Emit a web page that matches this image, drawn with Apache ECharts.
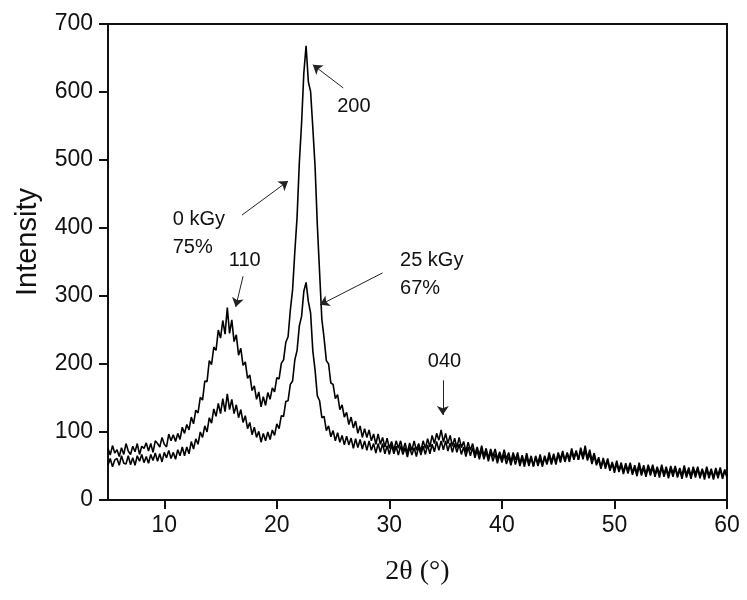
<!DOCTYPE html>
<html>
<head>
<meta charset="utf-8">
<script src="https://cdn.jsdelivr.net/npm/echarts@6/dist/echarts.min.js"></script>
<style>
  html, body { margin: 0; padding: 0; background: #fff; }
  #chart { width: 747px; height: 600px; }
</style>
</head>
<body>
<div id="chart"></div>
<script>
// 2theta sampling of the scans (deg)
const thetaStart = 5;
const thetaStep = 0.2;

// 0 kGy, crystallinity 75% - one value every 0.2 deg from 5 to 60
const intensity0kGy = [
  76, 66, 80, 69, 74, 64, 77, 67, 83, 72,          // 5.0
  67, 79, 71, 83, 67, 79, 76, 84, 72, 83,          // 7.0
  70, 87, 83, 78, 92, 82, 78, 97, 87, 96,          // 9.0
  86, 98, 89, 107, 98, 111, 103, 122, 112, 132,    // 11.0
  128, 151, 147, 175, 174, 205, 199, 225, 220, 250, // 13.0
  238, 264, 244, 283, 245, 265, 233, 243, 213, 223, // 15.0
  198, 203, 179, 184, 161, 168, 148, 159, 137, 152, // 17.0
  139, 158, 148, 165, 159, 180, 178, 201, 206, 232, // 19.0
  240, 279, 309, 365, 416, 496, 554, 628, 668, 615, // 21.0
  601, 547, 490, 404, 335, 266, 238, 205, 200, 172, // 23.0
  170, 149, 155, 133, 140, 122, 129, 111, 122, 106, // 25.0
  116, 98, 109, 92, 105, 92, 103, 87, 97, 82,      // 27.0
  97, 82, 92, 78, 91, 76, 86, 73, 87, 76,          // 29.0
  87, 72, 84, 69, 84, 73, 87, 73, 83, 72,          // 31.0
  87, 76, 90, 78, 95, 83, 98, 88, 103, 85,         // 33.0
  98, 83, 95, 79, 91, 77, 92, 77, 86, 71,          // 35.0
  85, 73, 83, 67, 78, 66, 80, 65, 76, 61,          // 37.0
  75, 64, 75, 60, 71, 60, 74, 60, 70, 56,          // 39.0
  70, 59, 70, 54, 66, 54, 69, 54, 65, 50,          // 41.0
  65, 54, 67, 52, 65, 54, 70, 56, 68, 55,          // 43.0
  70, 60, 72, 58, 70, 60, 76, 62, 73, 59,          // 45.0
  77, 64, 80, 61, 74, 58, 69, 54, 63, 48,          // 47.0
  62, 50, 61, 45, 56, 44, 58, 44, 55, 41,          // 49.0
  54, 43, 55, 40, 51, 40, 55, 40, 51, 38,          // 51.0
  52, 41, 52, 38, 49, 38, 52, 38, 49, 36,          // 53.0
  50, 39, 50, 36, 47, 36, 51, 37, 48, 35,          // 55.0
  49, 38, 49, 35, 46, 35, 49, 36, 46, 33,          // 57.0
  47, 36, 48, 34, 45, 35                           // 59.0
];

// 25 kGy, crystallinity 67%
const intensity25kGy = [
  51, 61, 49, 59, 61, 51, 65, 54, 53, 65,          // 5.0
  52, 62, 51, 65, 57, 67, 55, 64, 54, 67,          // 7.0
  58, 69, 57, 68, 56, 70, 62, 73, 61, 70,          // 9.0
  60, 74, 65, 78, 65, 78, 68, 86, 75, 90,          // 11.0
  82, 100, 92, 109, 100, 121, 113, 134, 123, 142,  // 13.0
  127, 149, 130, 156, 133, 148, 127, 140, 121, 133, // 15.0
  114, 124, 105, 114, 96, 107, 92, 101, 85, 98,    // 17.0
  87, 100, 89, 103, 95, 112, 105, 124, 123, 145,   // 19.0
  146, 170, 175, 206, 220, 256, 270, 307, 320, 292, // 21.0
  275, 219, 191, 153, 146, 121, 123, 102, 109, 93, // 23.0
  102, 87, 99, 85, 95, 81, 94, 81, 91, 76,         // 25.0
  90, 77, 89, 75, 87, 73, 87, 73, 83, 69,          // 27.0
  83, 70, 83, 68, 80, 67, 81, 68, 79, 66,          // 29.0
  80, 67, 77, 63, 78, 66, 77, 64, 79, 66,          // 31.0
  79, 67, 81, 68, 82, 71, 86, 73, 87, 74,          // 33.0
  87, 72, 84, 70, 83, 70, 82, 67, 78, 64,          // 35.0
  78, 65, 77, 62, 73, 60, 74, 60, 71, 57,          // 37.0
  71, 57, 68, 54, 67, 55, 67, 53, 64, 51,          // 39.0
  65, 52, 65, 50, 62, 49, 63, 50, 62, 49,          // 41.0
  63, 50, 61, 49, 63, 52, 65, 52, 65, 52,          // 43.0
  67, 55, 69, 56, 68, 56, 71, 59, 71, 59,          // 45.0
  73, 60, 73, 58, 68, 53, 65, 51, 60, 46,          // 47.0
  59, 46, 58, 43, 54, 40, 54, 41, 51, 38,          // 49.0
  51, 39, 51, 37, 48, 35, 50, 36, 47, 34,          // 51.0
  48, 36, 48, 34, 46, 33, 48, 34, 45, 32,          // 53.0
  46, 34, 47, 33, 44, 31, 46, 33, 44, 31,          // 55.0
  45, 33, 46, 32, 44, 30, 45, 32, 43, 30,          // 57.0
  44, 32, 45, 31, 43, 33                           // 59.0
];

const xTickValues = [10, 20, 30, 40, 50, 60];

// peak / sample annotations: [2theta, intensity, text, align]
const noteLabels = [
  [26.85, 579, '200', 'center'],
  [10.75, 392, '0 kGy\n75%', 'left'],
  [17.15, 352, '110', 'center'],
  [30.95, 331, '25 kGy\n67%', 'left'],
  [34.9, 204, '040', 'center']
];
// arrows: [tail 2theta, tail intensity, head 2theta, head intensity]
const noteArrows = [
  [25.9, 606, 23.2, 640],
  [16.9, 419, 21.0, 469],
  [17.0, 329, 16.35, 284],
  [29.4, 334, 23.85, 287],
  [34.75, 176, 34.75, 125]
];

function toPairs(values) {
  return values.map((v, i) => [+(thetaStart + i * thetaStep).toFixed(1), v]);
}

const chart = echarts.init(document.getElementById('chart'), null, { renderer: 'canvas' });

const textColor = '#111';
const sansFont = '"Liberation Sans", Arial, sans-serif';

chart.setOption({
  animation: false,
  backgroundColor: '#fff',
  grid: {
    left: 108, right: 20, top: 24, bottom: 100,
    show: true, borderColor: '#111', borderWidth: 2
  },
  xAxis: {
    type: 'value',
    min: 5, max: 60,
    name: '2\u03b8 (\u00b0)',
    nameLocation: 'middle',
    nameGap: 58,
    nameTextStyle: { fontFamily: '"Liberation Serif", "DejaVu Serif", serif', fontSize: 28, color: textColor },
    axisLine: { lineStyle: { color: '#111', width: 2 } },
    axisTick: { show: true, length: 9, customValues: xTickValues, lineStyle: { color: '#111', width: 2 } },
    axisLabel: { customValues: xTickValues, margin: 14, fontFamily: sansFont, fontSize: 23, color: textColor },
    splitLine: { show: false }
  },
  yAxis: {
    type: 'value',
    min: 0, max: 700, interval: 100,
    name: 'Intensity',
    nameLocation: 'middle',
    nameGap: 66,
    // push the title up a little, as in the original
    nameTextStyle: { fontFamily: sansFont, fontSize: 29, color: textColor, padding: [0, 0, 0, 40] },
    axisLine: { show: true, lineStyle: { color: '#111', width: 2 } },
    axisTick: { show: true, length: 9, lineStyle: { color: '#111', width: 2 } },
    axisLabel: { margin: 15, fontFamily: sansFont, fontSize: 23, color: textColor },
    splitLine: { show: false }
  },
  series: [
    {
      name: '0 kGy',
      type: 'line',
      data: toPairs(intensity0kGy),
      showSymbol: false,
      lineStyle: { color: '#000', width: 1.6 },
      silent: true
    },
    {
      name: '25 kGy',
      type: 'line',
      data: toPairs(intensity25kGy),
      showSymbol: false,
      lineStyle: { color: '#000', width: 1.6 },
      silent: true
    },
    {
      name: 'notes',
      type: 'scatter',
      silent: true,
      symbolSize: 0,
      itemStyle: { opacity: 1 },
      data: noteLabels.map(n => ({
        value: [n[0], n[1]],
        label: {
          show: true,
          position: 'inside',
          formatter: n[2],
          align: n[3],
          verticalAlign: 'middle',
          fontFamily: sansFont,
          fontSize: 20,
          lineHeight: 28,
          color: textColor
        }
      })),
      markLine: {
        silent: true,
        symbol: ['none', 'arrow'],
        symbolSize: 9,
        label: { show: false },
        lineStyle: { color: '#222', width: 1, type: 'solid', opacity: 1 },
        data: noteArrows.map(a => [
          { coord: [a[0], a[1]] },
          { coord: [a[2], a[3]] }
        ])
      }
    }
  ]
});
</script>
</body>
</html>
